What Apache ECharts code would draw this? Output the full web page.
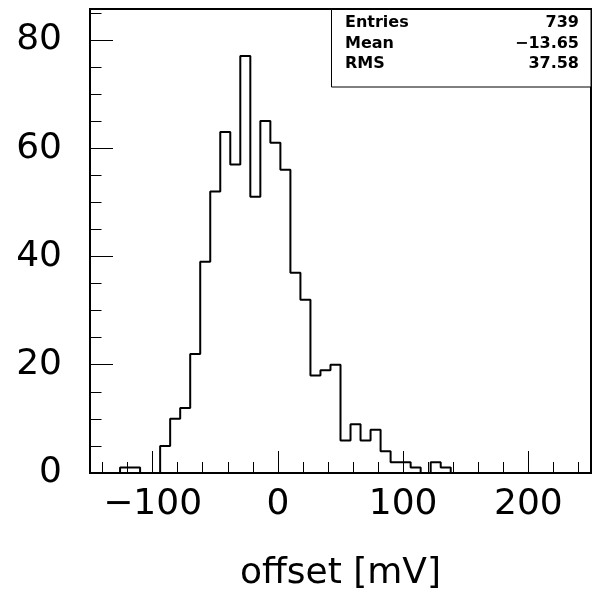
<!DOCTYPE html>
<html><head><meta charset="utf-8">
<script src="https://cdn.jsdelivr.net/npm/echarts@6/dist/echarts.min.js"></script>
<style>html,body{margin:0;padding:0;background:#fff}#c{width:593px;height:590px}</style>
</head><body><div id="c"></div>
<script>
const binLow = -150;
const binWidth = 8;
const counts = [0,0,0,1,1,0,0,5,10,12,22,39,52,63,57,77,51,65,61,56,37,32,18,19,20,6,9,6,8,4,2,2,1,0,2,1,0,0,0,0,0,0,0,0,0,0,0,0,0,0];
const xTickLabels = [-100, 0, 100, 200];
const yTickLabels = [0, 20, 40, 60, 80];
const statNames = ['Entries', 'Mean', 'RMS'];
const statValues = ['739', '\u221213.65', '37.58'];
const xTitle = 'offset [mV]';

const xMax = binLow + counts.length * binWidth;
const pts = [[binLow, 0]];
counts.forEach((c, k) => {
  const x0 = binLow + k * binWidth;
  pts.push([x0, c], [x0 + binWidth, c]);
});
pts.push([xMax, 0]);

const FONT = 'DejaVu Sans';
const chart = echarts.init(document.getElementById('c'), null, {renderer: 'canvas'});
const noLine = {show: false, onZero: false};
const noSplit = {show: false};
chart.setOption({
  animation: false,
  backgroundColor: '#fff',
  grid: {left: 90, right: 2, top: 9, bottom: 117, show: true, borderColor: '#000', borderWidth: 2,
         containLabel: false, outerBoundsMode: 'none'},
  xAxis: [
    {type: 'value', min: binLow, max: xMax, splitNumber: 4, position: 'bottom',
     axisLine: noLine, splitLine: noSplit,
     axisTick: {inside: true, length: 22, lineStyle: {color: '#000', width: 1}},
     axisLabel: {margin: 14, fontFamily: FONT, fontSize: 36, color: '#000',
       formatter: v => xTickLabels.includes(v) ? String(v).replace('-', '\u2212') : ''},
     name: xTitle, nameLocation: 'middle', nameGap: 83,
     nameTextStyle: {fontFamily: FONT, fontSize: 36, color: '#000'}},
    {type: 'value', min: binLow, max: xMax, splitNumber: 20, position: 'bottom',
     axisLine: noLine, splitLine: noSplit,
     axisTick: {inside: true, length: 11, lineStyle: {color: '#000', width: 1}},
     axisLabel: {show: false}}
  ],
  yAxis: [
    {type: 'value', min: 0, max: 85.7, interval: 20, position: 'left',
     axisLine: noLine, splitLine: noSplit,
     axisTick: {inside: true, length: 23, lineStyle: {color: '#000', width: 1}},
     axisLabel: {margin: 28, fontFamily: FONT, fontSize: 36, color: '#000',
       formatter: v => yTickLabels.includes(v) ? String(v) : ''}},
    {type: 'value', min: 0, max: 85.7, interval: 5, position: 'left',
     axisLine: noLine, splitLine: noSplit,
     axisTick: {inside: true, length: 11.5, lineStyle: {color: '#000', width: 1}},
     axisLabel: {show: false}}
  ],
  series: [{
    type: 'line', xAxisIndex: 0, yAxisIndex: 0, data: pts,
    showSymbol: false, symbol: 'none', silent: true,
    lineStyle: {color: '#000', width: 2}
  }],
  graphic: [
    {type: 'rect', z: 100, shape: {x: 331.5, y: 9.5, width: 259.5, height: 77.5},
     style: {fill: '#fff', stroke: '#000', lineWidth: 1}}
  ].concat(statNames.map((n, i) => ({
    type: 'text', z: 101, x: 345, y: 22.7 + i * 20.8,
    style: {text: n, fontFamily: FONT, fontSize: 16, fontWeight: 'bold', fill: '#000', align: 'left', verticalAlign: 'middle'}
  }))).concat(statValues.map((v, i) => ({
    type: 'text', z: 101, x: 579, y: 22.7 + i * 20.8,
    style: {text: v, fontFamily: FONT, fontSize: 16, fontWeight: 'bold', fill: '#000', align: 'right', verticalAlign: 'middle'}
  })))
});
</script></body></html>
